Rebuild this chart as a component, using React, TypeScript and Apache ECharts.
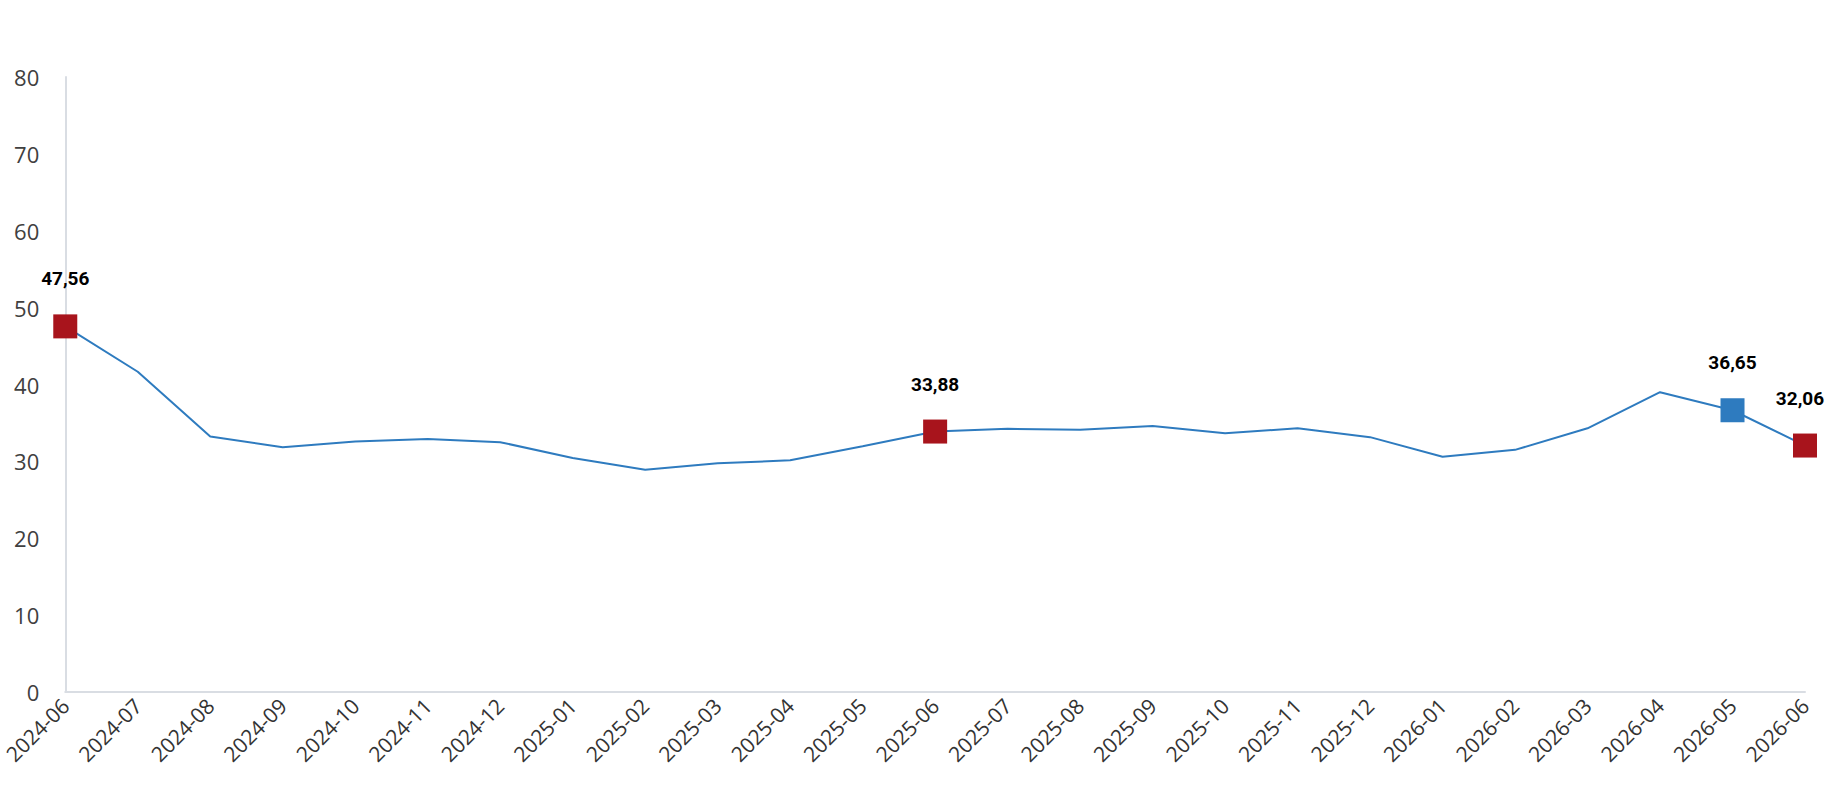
import React, { useEffect, useRef } from "react";
import * as echarts from "echarts";

const months = [
    "2024-06", "2024-07", "2024-08", "2024-09", "2024-10", "2024-11", "2024-12",
    "2025-01", "2025-02", "2025-03", "2025-04", "2025-05", "2025-06", "2025-07",
    "2025-08", "2025-09", "2025-10", "2025-11", "2025-12", "2026-01", "2026-02",
    "2026-03", "2026-04", "2026-05", "2026-06",
];

const values = [
    47.56, 41.66, 33.23, 31.84, 32.6, 32.9, 32.5,
    30.45, 28.9, 29.75, 30.14, 31.97, 33.88, 34.23,
    34.1, 34.6, 33.67, 34.3, 33.15, 30.6, 31.5,
    34.3, 39.0, 36.65, 32.06,
];

// months with a labelled marker
const redMonths = ["2024-06", "2025-06", "2026-06"];
const blueMonths = ["2026-05"];

const yTicks = [0, 10, 20, 30, 40, 50, 60, 70, 80];

const LINE = "#2e7bbf";
const RED = "#a8141c";

const App: React.FC = () => {
    const chartRef = useRef<HTMLDivElement>(null);

    useEffect(() => {
        document.body.style.margin = "0";
        const chart = echarts.init(chartRef.current!, undefined, { renderer: "svg" });

        const seriesData = values.map((v, i) => {
            const m = months[i];
            const isRed = redMonths.includes(m);
            const isBlue = blueMonths.includes(m);
            if (!isRed && !isBlue) return v;
            const isLast = i === values.length - 1;
            return {
                value: v,
                symbol: "rect",
                symbolSize: 24,
                itemStyle: { color: isRed ? RED : LINE },
                label: {
                    show: true,
                    position: "top",
                    distance: 26,
                    // keep the last label inside the canvas
                    offset: isLast ? [-5, 0] : [0, 0],
                    fontFamily: "Roboto",
                    fontWeight: "bold",
                    fontSize: 19,
                    color: "#000",
                    formatter: () => v.toFixed(2).replace(".", ","),
                },
            };
        });

        chart.setOption({
            animation: false,
            grid: { left: 64, right: 25, top: 77, bottom: 108, containLabel: false },
            xAxis: {
                type: "category",
                data: months,
                boundaryGap: false,
                axisLine: { lineStyle: { color: "#d9dde3", width: 2 } },
                axisTick: { show: false },
                axisLabel: {
                    rotate: 45,
                    interval: 0,
                    fontFamily: "Open Sans",
                    fontSize: 21,
                    color: "#333",
                    margin: 10,
                },
            },
            yAxis: {
                type: "value",
                min: yTicks[0],
                max: yTicks[yTicks.length - 1],
                interval: 10,
                axisLine: { show: true, lineStyle: { color: "#d9dde3", width: 2 } },
                axisTick: { show: false },
                splitLine: { show: false },
                axisLabel: {
                    fontFamily: "Open Sans",
                    fontSize: 22,
                    color: "#404040",
                    margin: 26,
                },
            },
            series: [
                {
                    type: "line",
                    data: seriesData,
                    symbol: "none",
                    showSymbol: true,
                    lineStyle: { color: LINE, width: 2 },
                    itemStyle: { color: LINE },
                    z: 2,
                },
            ],
        });

        return () => {
            chart.dispose();
        };
    }, []);

    return <div ref={chartRef} style={{ width: "1830px", height: "800px" }} />;
};

export default App;
